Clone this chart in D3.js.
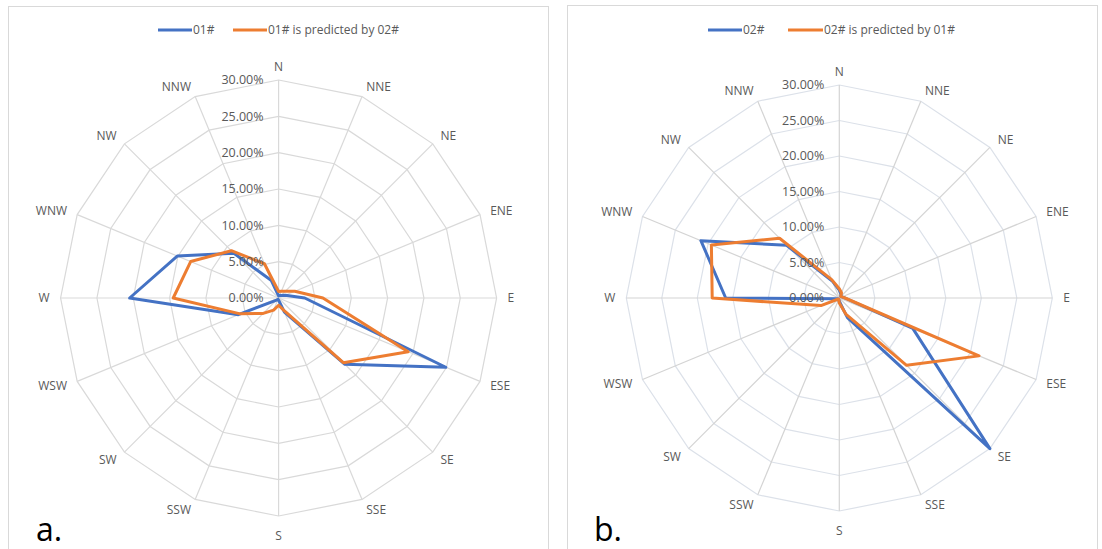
<!DOCTYPE html>
<html><head><meta charset="utf-8">
<script src="https://cdn.jsdelivr.net/npm/d3@7"></script>
<style>html,body{margin:0;padding:0;background:#fff;} svg{display:block;}</style>
</head><body>
<svg id="c" width="1102" height="549"></svg>
<script>
const directions = ["N","NNE","NE","ENE","E","ESE","SE","SSE","S","SSW","SW","WSW","W","WNW","NW","NNW"];
const tickValues = [0,5,10,15,20,25,30];
const tickLabels = ["0.00%","5.00%","10.00%","15.00%","20.00%","25.00%","30.00%"];
// panel a
const a_obs  = [0.3,0.4,0.5,1.0,3.6,24.9,12.9,2.1,0.3,0.2,0.4,6.0,20.5,15.1,8.7,2.6];
const a_pred = [0.9,1.0,1.3,2.4,6.1,19.3,12.6,1.8,1.0,1.8,3.0,5.7,14.5,13.1,9.2,5.1];
// panel b
const b_obs  = [1.1,0.6,0.3,0.4,0.8,11.2,30.0,3.0,0.5,0.2,0.2,0.3,16.0,21.1,10.5,2.6];
const b_pred = [1.3,0.8,0.3,0.4,0.8,21.3,13.4,2.5,0.7,0.2,0.2,2.8,17.9,19.5,11.9,2.8];
const legendA = ["01#","01# is predicted by 02#"];
const legendB = ["02#","02# is predicted by 01#"];
const panelLetters = ["a.","b."];

const BLUE = "#4472C4", ORANGE = "#ED7D31";
const svg = d3.select("#c");
const FONT = "'Open Sans', 'Noto Sans', sans-serif";

function panel(opt){
  const g = svg.append("g");
  // frame
  g.append("rect").attr("x",opt.fx).attr("y",opt.fy).attr("width",opt.fw).attr("height",600)
    .attr("fill","none").attr("stroke","#d9d9d9").attr("stroke-width",1);
  const r = d3.scaleLinear().domain([0,30]).range([0,opt.R]);
  const ang = d3.scaleLinear().domain([0,directions.length]).range([0,2*Math.PI]);
  const c = g.append("g").attr("transform",`translate(${opt.cx},${opt.cy})`);
  // rings
  tickValues.slice(1).forEach(v=>{
    const pts = directions.map((d,i)=>[r(v)*Math.sin(ang(i)), -r(v)*Math.cos(ang(i))]);
    c.append("polygon").attr("points",pts.map(p=>p.join(",")).join(" "))
      .attr("fill","none").attr("stroke",opt.ringColor).attr("stroke-width",1.2);
  });
  // spokes
  directions.forEach((d,i)=>{
    c.append("line").attr("x1",0).attr("y1",0)
      .attr("x2",r(30)*Math.sin(ang(i))).attr("y2",-r(30)*Math.cos(ang(i)))
      .attr("stroke",opt.spokeColor).attr("stroke-width",1.2);
  });
  // series
  const line = d3.lineRadial().angle((d,i)=>ang(i)).radius(d=>r(d)).curve(d3.curveLinearClosed);
  [[opt.obs,BLUE],[opt.pred,ORANGE]].forEach(([vals,col])=>{
    c.append("path").attr("d",line(vals)).attr("fill","none").attr("stroke",col)
      .attr("stroke-width",3).attr("stroke-linejoin","round");
  });
  // tick labels
  tickValues.forEach((v,i)=>{
    c.append("text").attr("x",-15).attr("y",-r(v)).attr("dy","0.35em")
      .attr("text-anchor","end").attr("font-family",FONT).attr("font-size",12.5)
      .attr("fill","#595959").text(tickLabels[i]);
  });
  // direction labels
  directions.forEach((d,i)=>{
    const s = Math.sin(ang(i)), co = Math.cos(ang(i));
    const gap = 11;
    let x = (r(30)+gap)*s, y = -(r(30)+gap)*co;
    let anchor = Math.abs(s)<0.1 ? "middle" : (s>0 ? "start" : "end");
    let dy = "0.35em";
    if (Math.abs(s)<0.1) { y += co>0 ? -2 : 9; }
    c.append("text").attr("x",x).attr("y",y).attr("dy",dy).attr("text-anchor",anchor)
      .attr("font-family",FONT).attr("font-size",12).attr("fill","#595959").text(d);
  });
  // legend
  const L = opt.legend;
  [[BLUE,L.x1,L.t1,opt.legendText[0]],[ORANGE,L.x2,L.t2,opt.legendText[1]]].forEach(([col,xs,tx,label])=>{
    g.append("line").attr("x1",xs[0]).attr("x2",xs[1]).attr("y1",30).attr("y2",30)
      .attr("stroke",col).attr("stroke-width",3);
    g.append("text").attr("x",tx).attr("y",30).attr("dy","0.35em").attr("font-family",FONT)
      .attr("font-size",12).attr("fill","#595959").text(label);
  });
  g.append("text").attr("x",opt.letterX).attr("y",541).attr("font-family",FONT)
    .attr("font-size",32).attr("fill","#000").text(opt.letter);
}

panel({fx:8.5,fy:6.5,fw:540,cx:278.6,cy:298,R:218,obs:a_obs,pred:a_pred,
  ringColor:"#d9d9d9",spokeColor:"#d9d9d9",
  legend:{x1:[158,192],t1:193,x2:[233,267],t2:268},legendText:legendA,letter:panelLetters[0],letterX:36});
panel({fx:567.5,fy:5.5,fw:530,cx:839.3,cy:298,R:213,obs:b_obs,pred:b_pred,
  ringColor:"#dce1e9",spokeColor:"#d4d4d4",
  legend:{x1:[708,742],t1:743,x2:[788,823],t2:824},legendText:legendB,letter:panelLetters[1],letterX:594});
</script>
</body></html>
